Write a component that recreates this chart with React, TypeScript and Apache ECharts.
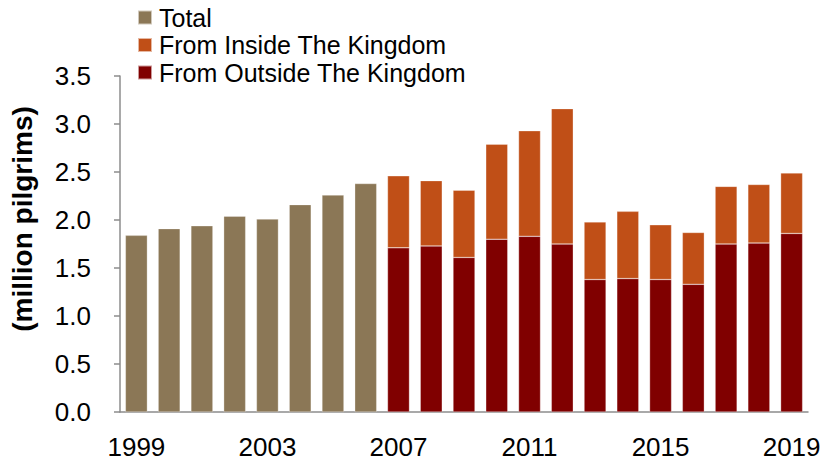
import React, { useEffect, useRef } from "react";
import * as echarts from "echarts";

const years = ["1999","2000","2001","2002","2003","2004","2005","2006","2007","2008","2009","2010","2011","2012","2013","2014","2015","2016","2017","2018","2019"];
const totalValues = [1.84, 1.91, 1.94, 2.04, 2.01, 2.16, 2.26, 2.38, null, null, null, null, null, null, null, null, null, null, null, null, null];
const outsideValues = [null, null, null, null, null, null, null, null, 1.71, 1.73, 1.61, 1.80, 1.83, 1.75, 1.38, 1.39, 1.38, 1.33, 1.75, 1.76, 1.86];
const insideValues = [null, null, null, null, null, null, null, null, 0.75, 0.68, 0.70, 0.99, 1.10, 1.41, 0.60, 0.70, 0.57, 0.54, 0.60, 0.61, 0.63];

const FONT = "'Liberation Sans', Arial, sans-serif";

export default function App() {
  const ref = useRef<HTMLDivElement>(null);
  useEffect(() => {
    if (!ref.current) return;
    const chart = echarts.init(ref.current, null, { renderer: "svg" });
    chart.setOption({
      animation: false,
      textStyle: { fontFamily: FONT },
      legend: {
        orient: "vertical",
        left: 132,
        top: 0,
        itemWidth: 14,
        itemHeight: 14,
        itemGap: 2.5,
        icon: "rect",
        data: ["Total", "From Inside The Kingdom", "From Outside The Kingdom"],
        textStyle: { fontFamily: FONT, fontSize: 25, lineHeight: 25, color: "#000", padding: [0, 0, 0, 2] },
      },
      grid: { left: 114, right: 16, top: 76, bottom: 49 },
      xAxis: {
        type: "category",
        data: years,
        axisLine: { lineStyle: { color: "#8c8c8c", width: 1.5 } },
        axisTick: { interval: 0, length: 6, lineStyle: { color: "#8c8c8c", width: 1.5 } },
        axisLabel: { interval: 3, fontSize: 26, color: "#000", fontFamily: FONT, margin: 22 },
      },
      yAxis: {
        type: "value",
        min: 0,
        max: 3.5,
        interval: 0.5,
        name: "(million pilgrims)",
        nameLocation: "middle",
        nameRotate: 90,
        nameGap: 84,
        nameTextStyle: { fontSize: 28, fontWeight: "bold", color: "#000", fontFamily: FONT, padding: [0, 0, 0, 50] },
        splitLine: { show: false },
        axisLine: { show: true, lineStyle: { color: "#8c8c8c", width: 1.5 } },
        axisTick: { show: true, length: 6, lineStyle: { color: "#8c8c8c", width: 1.5 } },
        axisLabel: { fontSize: 26, color: "#000", fontFamily: FONT, margin: 29, formatter: (v: number) => v.toFixed(1) },
      },
      series: [
        {
          name: "Total",
          type: "bar",
          stack: "a",
          data: totalValues,
          barCategoryGap: "33%",
          itemStyle: { color: "#8B7756", borderColor: "rgba(255,255,255,0.6)", borderWidth: 0.5 },
        },
        {
          name: "From Outside The Kingdom",
          type: "bar",
          stack: "a",
          data: outsideValues,
          barCategoryGap: "33%",
          itemStyle: { color: "#800000", borderColor: "rgba(255,255,255,0.6)", borderWidth: 0.5 },
        },
        {
          name: "From Inside The Kingdom",
          type: "bar",
          stack: "a",
          data: insideValues,
          barCategoryGap: "33%",
          itemStyle: { color: "#C04F17", borderColor: "rgba(255,255,255,0.6)", borderWidth: 0.5 },
        },
      ],
    });
    return () => chart.dispose();
  }, []);
  return <div ref={ref} style={{ width: 824, height: 461, position: "absolute", left: 0, top: 0 }} />;
}
